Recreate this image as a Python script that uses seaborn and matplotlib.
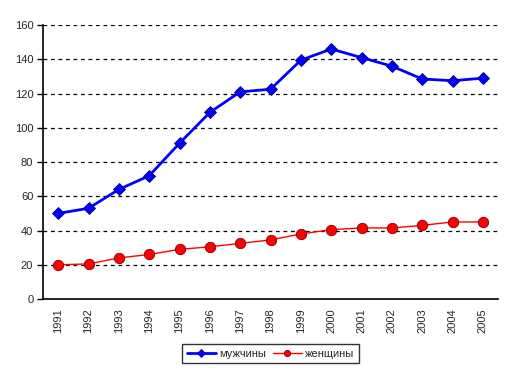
import matplotlib
matplotlib.use('Agg')
import matplotlib.pyplot as plt
import seaborn as sns
import pandas as pd

years = ['1991', '1992', '1993', '1994', '1995', '1996', '1997', '1998',
         '1999', '2000', '2001', '2002', '2003', '2004', '2005']
men = [50, 53, 64, 72, 91, 109, 121, 122.5, 139.5, 146, 141, 136, 128.5, 127.5, 129]
women = [20, 20.5, 24, 26, 29, 30.5, 32.5, 34.5, 38, 40.5, 41.5, 41.5, 43, 45, 45]

df = pd.DataFrame({'year': years, 'мужчины': men, 'женщины': women})
df_long = df.melt(id_vars='year', var_name='series', value_name='value')

sns.set_style('white')
plt.rcParams['font.family'] = ['Liberation Sans', 'DejaVu Sans']

fig = plt.figure(figsize=(5.14, 3.74), dpi=100)
ax = fig.add_axes([0.0837, 0.2005, 0.8853, 0.7325])

sns.lineplot(data=df_long[df_long.series == 'мужчины'], x='year', y='value',
             color='#0000ff', lw=2, marker='D', markersize=6.5,
             markeredgecolor='#000080', markeredgewidth=0.6,
             label='мужчины', ax=ax)
sns.lineplot(data=df_long[df_long.series == 'женщины'], x='year', y='value',
             color='#ff0000', lw=1, marker='o', markersize=7.5,
             markeredgecolor='#800000', markeredgewidth=0.6,
             label='женщины', ax=ax)

ax.set_ylim(0, 160)
ax.set_xlim(-0.5, len(years) - 0.5)
ax.set_yticks(range(0, 161, 20))
ax.yaxis.grid(True, color='black', linestyle=(0, (3, 3)), lw=0.9)
ax.set_axisbelow(True)
for s in ['top', 'right']:
    ax.spines[s].set_visible(False)
for s in ['left', 'bottom']:
    ax.spines[s].set_color('black')
    ax.spines[s].set_linewidth(1.2)
ax.tick_params(axis='y', left=True, length=4, width=1, color='black',
               labelsize=8, pad=3)
ax.tick_params(axis='x', bottom=False, labelsize=8, pad=3)
plt.setp(ax.get_xticklabels(), rotation=90)
ax.set_xlabel('')
ax.set_ylabel('')

leg = ax.legend(loc='upper center', bbox_to_anchor=(0.5, -0.145), ncol=2,
                frameon=True, fancybox=False, fontsize=8, handlelength=2.6,
                columnspacing=0.6, handletextpad=0.3, borderpad=0.4,
                markerscale=0.6)
leg.get_frame().set_edgecolor('black')
leg.get_frame().set_linewidth(1)

fig.savefig('out.png', dpi=100)
